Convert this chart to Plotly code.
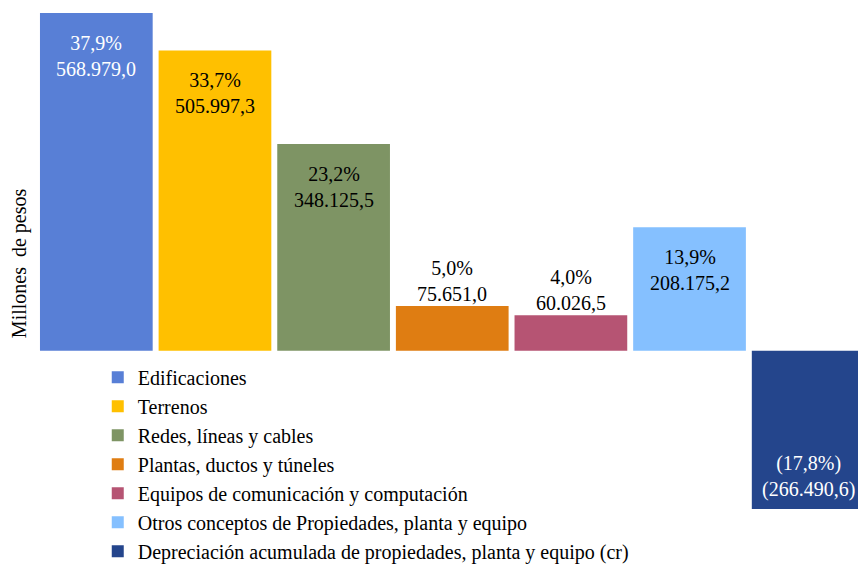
import plotly.graph_objects as go

categories = [
    "Edificaciones",
    "Terrenos",
    "Redes, líneas y cables",
    "Plantas, ductos y túneles",
    "Equipos de comunicación y computación",
    "Otros conceptos de Propiedades, planta y equipo",
    "Depreciación acumulada de propiedades, planta y equipo (cr)",
]
values = [568979.0, 505997.3, 348125.5, 75651.0, 60026.5, 208175.2, -266490.6]
percents = [37.9, 33.7, 23.2, 5.0, 4.0, 13.9, -17.8]

colors = ["#587FD6", "#FFC000", "#7E9464", "#DF7D12", "#B65473", "#85C0FF", "#24458C"]
FONT = "Liberation Serif, Times New Roman, serif"


def fmt_num(v, decimals=1):
    s = f"{abs(v):,.{decimals}f}"
    s = s.replace(",", "X").replace(".", ",").replace("X", ".")
    return f"({s})" if v < 0 else s


def lum(hexc):
    r, g, b = int(hexc[1:3], 16), int(hexc[3:5], 16), int(hexc[5:7], 16)
    return 0.299 * r + 0.587 * g + 0.114 * b


fig = go.Figure()
for i, (cat, v, c) in enumerate(zip(categories, values, colors)):
    fig.add_trace(go.Bar(
        x=[i], y=[v], name=cat, legendgroup=f"g{i}",
        marker=dict(color=c, line=dict(width=0)),
        hoverinfo="skip",
    ))

inside_min = 150000
for i, (v, p, c) in enumerate(zip(values, percents, colors)):
    pct = f"{fmt_num(p)}%" if p >= 0 else f"({fmt_num(-p)}%)"
    text = f"{pct}<br>{fmt_num(v)}"
    inside = abs(v) >= inside_min
    if inside:
        col = "white" if lum(c) < 131 else "black"
        if v >= 0:
            ya, ys = "top", -17
        else:
            ya, ys = "bottom", 6
    else:
        col = "black"
        ya, ys = "bottom", -1
    fig.add_annotation(
        x=i, y=v, xref="x", yref="y", text=text, showarrow=False,
        yanchor=ya, yshift=ys, xanchor="center",
        font=dict(family=FONT, size=20, color=col),
    )

fig.add_annotation(
    x=-0.0205, y=0.496, xref="paper", yref="paper",
    text="Millones  de pesos", textangle=-90, showarrow=False,
    xanchor="center", yanchor="middle",
    font=dict(family=FONT, size=20, color="black"),
)

fig.update_layout(
    width=858, height=565,
    margin=dict(l=37, r=0, t=13, b=56, autoexpand=False),
    paper_bgcolor="white", plot_bgcolor="white",
    barmode="relative", bargap=0.05,
    showlegend=True,
    legend=dict(
        x=0.074, y=0.305, xanchor="left", yanchor="top",
        font=dict(family=FONT, size=20, color="black"),
        bgcolor="rgba(0,0,0,0)", tracegroupgap=2,
        traceorder="normal",
    ),
    xaxis=dict(range=[-0.5, 6.42], showticklabels=False, showgrid=False,
               zeroline=False, showline=False, ticks=""),
    yaxis=dict(range=[min(values), max(values)], showticklabels=False,
               showgrid=False, zeroline=False, showline=False, ticks=""),
    font=dict(family=FONT),
)

fig.write_html(
    "out.html",
    config={"displayModeBar": False},
    post_script="document.body.style.margin='0';document.body.style.overflow='hidden';",
)
